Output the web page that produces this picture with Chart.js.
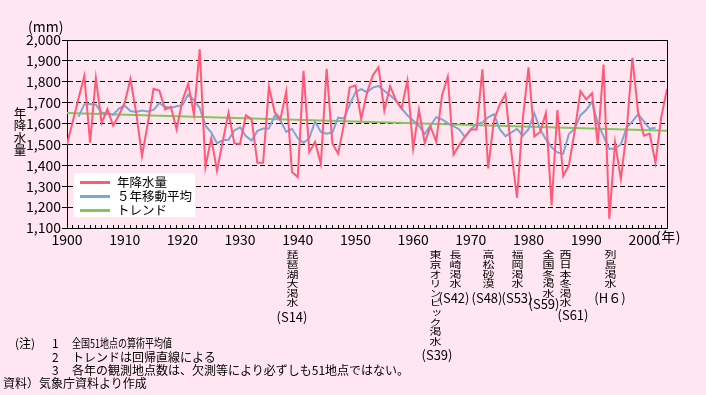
<!DOCTYPE html>
<html><head><meta charset="utf-8">
<script src="https://cdn.jsdelivr.net/npm/chart.js@4.4.0/dist/chart.umd.min.js"></script>
<style>
html,body{margin:0;padding:0;background:#ffe6f0;}
#wrap{position:relative;width:706px;height:395px;overflow:hidden;font-family:"Noto Sans CJK JP",sans-serif;color:#000;background:#ffe6f0;}
canvas{position:absolute;left:0;top:0;}
.t{position:absolute;white-space:nowrap;line-height:1;}
.v{position:absolute;writing-mode:vertical-rl;text-orientation:upright;font-size:12px;line-height:1;white-space:nowrap;transform:translateX(-50%) scaleY(0.8);transform-origin:50% 0;}
.p{position:absolute;white-space:nowrap;line-height:1;font-size:13px;transform:translateX(-50%);}
#legend{position:absolute;left:74px;top:173px;width:121px;height:44px;background:#fff;}
#legend .ln{position:absolute;left:6px;width:30px;height:3px;}
#legend .lt{position:absolute;left:43px;font-size:12.5px;line-height:14px;white-space:nowrap;}
.fn{position:absolute;font-size:12px;line-height:1;white-space:nowrap;transform-origin:0 0;}
</style></head>
<body><div id="wrap">
<canvas id="c" width="706" height="395"></canvas>
<div class="t" style="left:28px;top:19px;font-size:14px;">(mm)</div>
<div class="t" style="left:13px;top:107px;font-size:12.5px;writing-mode:vertical-rl;text-orientation:upright;letter-spacing:-0.2px;">年降水量</div>
<div class="t" style="left:656px;top:229px;font-size:14px;letter-spacing:0.5px;">(年)</div>
<div id="legend">
  <div class="ln" style="top:8px;background:#ff5a78"></div><div class="lt" style="top:2px">年降水量</div>
  <div class="ln" style="top:22px;background:#7ba6d6"></div><div class="lt" style="top:16px">５年移動平均</div>
  <div class="ln" style="top:36px;background:#80c85a"></div><div class="lt" style="top:30px">トレンド</div>
</div>
<div class="v" style="left:292px;top:250px;">琵琶湖大渇水</div><div class="p" style="left:292px;top:310px;">(S14)</div>
<div class="v" style="left:435px;top:250px;">東京オリンピック渇水</div><div class="p" style="left:437px;top:348px;">(S39)</div>
<div class="v" style="left:455px;top:250px;">長崎渇水</div><div class="p" style="left:454px;top:291px;">(S42)</div>
<div class="v" style="left:488px;top:250px;">高松砂漠</div><div class="p" style="left:487px;top:291px;">(S48)</div>
<div class="v" style="left:517px;top:250px;">福岡渇水</div><div class="p" style="left:517px;top:291px;">(S53)</div>
<div class="v" style="left:548px;top:250px;">全国冬渇水</div><div class="p" style="left:544px;top:297px;">(S59)</div>
<div class="v" style="left:565px;top:250px;">西日本冬渇水</div><div class="p" style="left:573px;top:308px;">(S61)</div>
<div class="v" style="left:610px;top:250px;">列島渇水</div><div class="p" style="left:610px;top:291px;">(H６)</div>
<div class="fn" style="left:15px;top:337px;">(注)</div>
<div class="fn" style="left:52px;top:337px;">1</div><div class="fn" style="left:72px;top:337px;transform:scaleX(0.75);">全国51地点の算術平均値</div>
<div class="fn" style="left:52px;top:351px;">2</div><div class="fn" style="left:72px;top:351px;">トレンドは回帰直線による</div>
<div class="fn" style="left:52px;top:364px;">3</div><div class="fn" style="left:72px;top:364px;">各年の観測地点数は、欠測等により必ずしも51地点ではない。</div>
<div class="fn" style="left:3px;top:377px;">資料）気象庁資料より作成</div>
</div>
<script>
// ---- data ----
const firstYear = 1900;
const rainfall = [
 1500,1610,1720,1828,1508,1818,1603,1668,1590,1640,
 1700,1813,1650,1445,1600,1766,1758,1668,1680,1572,
 1710,1790,1645,1955,1392,1530,1374,1515,1652,1505,
 1503,1640,1620,1412,1412,1776,1654,1622,1753,1368,
 1344,1852,1463,1512,1407,1862,1505,1456,1595,1773,
 1783,1622,1749,1830,1870,1662,1779,1713,1673,1805,
 1480,1666,1508,1586,1513,1735,1824,1452,1498,1538,
 1572,1572,1860,1385,1615,1690,1741,1468,1245,1620,
 1869,1538,1560,1650,1208,1665,1350,1400,1565,1755,
 1716,1745,1502,1882,1144,1510,1335,1560,1915,1650,
 1542,1552,1412,1630,1765];
const maFirstYear = 1902;
const movingAvg5 = [
 1633,1692,1694,1690,1652,1648,1642,1672,
 1685,1660,1655,1662,1658,1665,1698,1680,1675,1683,
 1688,1738,1712,1675,1590,1558,1506,1520,1522,1567,
 1582,1540,1519,1565,1576,1576,1638,1614,1560,1575,
 1530,1508,1530,1610,1560,1551,1558,1628,1624,1690,
 1750,1765,1750,1772,1780,1757,1735,1710,1672,1640,
 1615,1590,1550,1590,1630,1620,1602,1588,1572,1535,
 1573,1597,1605,1630,1645,1573,1540,1557,1575,1542,
 1573,1650,1573,1525,1486,1462,1455,1550,1575,1640,
 1665,1705,1600,1540,1478,1480,1500,1580,1610,1645,
 1610,1575,1580];
const trendYears = [1900, 2004];
const trendValues = [1651, 1566];
const yTicks = [1100,1200,1300,1400,1500,1600,1700,1800,1900,2000];
const xLabelYears = [1900,1910,1920,1930,1940,1950,1960,1970,1980,1990,2000];

const RED='#ff5a78', BLUE='#7ba6d6', GREEN='#80c85a';
const rainPts = rainfall.map((v,i)=>({x:firstYear+i,y:v}));
const maPts = movingAvg5.map((v,i)=>({x:maFirstYear+i,y:v}));
const trendPts = trendYears.map((y,i)=>({x:y,y:trendValues[i]}));
const lastYear = firstYear + rainfall.length - 1;
const allYears = rainfall.map((v,i)=>firstYear+i);

const frame = {
  id:'frame',
  beforeDatasetsDraw(chart){
    const a=chart.chartArea, c=chart.ctx;
    c.save(); c.strokeStyle='#000'; c.lineWidth=1;
    c.strokeRect(Math.round(a.left)+0.5, Math.round(a.top)+0.5, Math.round(a.right-a.left), Math.round(a.bottom-a.top));
    c.restore();
  }
};

new Chart(document.getElementById('c'), {
  type:'line',
  data:{datasets:[
    {label:'年降水量', data:rainPts, borderColor:RED, borderWidth:2, pointRadius:0, tension:0, order:1},
    {label:'５年移動平均', data:maPts, borderColor:BLUE, borderWidth:2, pointRadius:0, tension:0, order:2},
    {label:'トレンド', data:trendPts, borderColor:GREEN, borderWidth:2, pointRadius:0, tension:0, order:3}
  ]},
  options:{
    responsive:false, animation:false, devicePixelRatio:1,
    layout:{padding:{top:40,right:39,left:0,bottom:0}},
    plugins:{legend:{display:false}, tooltip:{enabled:false}},
    scales:{
      x:{type:'linear', min:firstYear, max:lastYear,
        afterFit(s){s.height=167;},
        afterBuildTicks(s){s.ticks=allYears.map(v=>({value:v}));},
        ticks:{autoSkip:false, maxRotation:0, minRotation:0, padding:6, color:'#000',
          font:{family:'"Noto Sans CJK JP", sans-serif', size:14},
          callback:(v)=>xLabelYears.includes(v)?String(v):''},
        grid:{display:true, drawOnChartArea:false, drawTicks:true, tickLength:-3, color:'#000', tickColor:'#000'},
        border:{display:true, color:'#000', width:1}
      },
      y:{type:'linear', min:1100, max:2000,
        afterFit(s){s.width=67;},
        afterBuildTicks(s){s.ticks=yTicks.map(v=>({value:v}));},
        ticks:{padding:1, color:'#000', font:{family:'"Noto Sans CJK JP", sans-serif', size:14},
          callback:(v)=>v.toLocaleString('en-US')},
        grid:{display:true, drawOnChartArea:true, drawTicks:true, tickLength:5, color:'#000', tickColor:'#000', lineWidth:1, tickBorderDash:[]},
        border:{display:true, color:'#000', width:1, dash:[5,3]}
      }
    }
  },
  plugins:[frame]
});
</script>
</body></html>
